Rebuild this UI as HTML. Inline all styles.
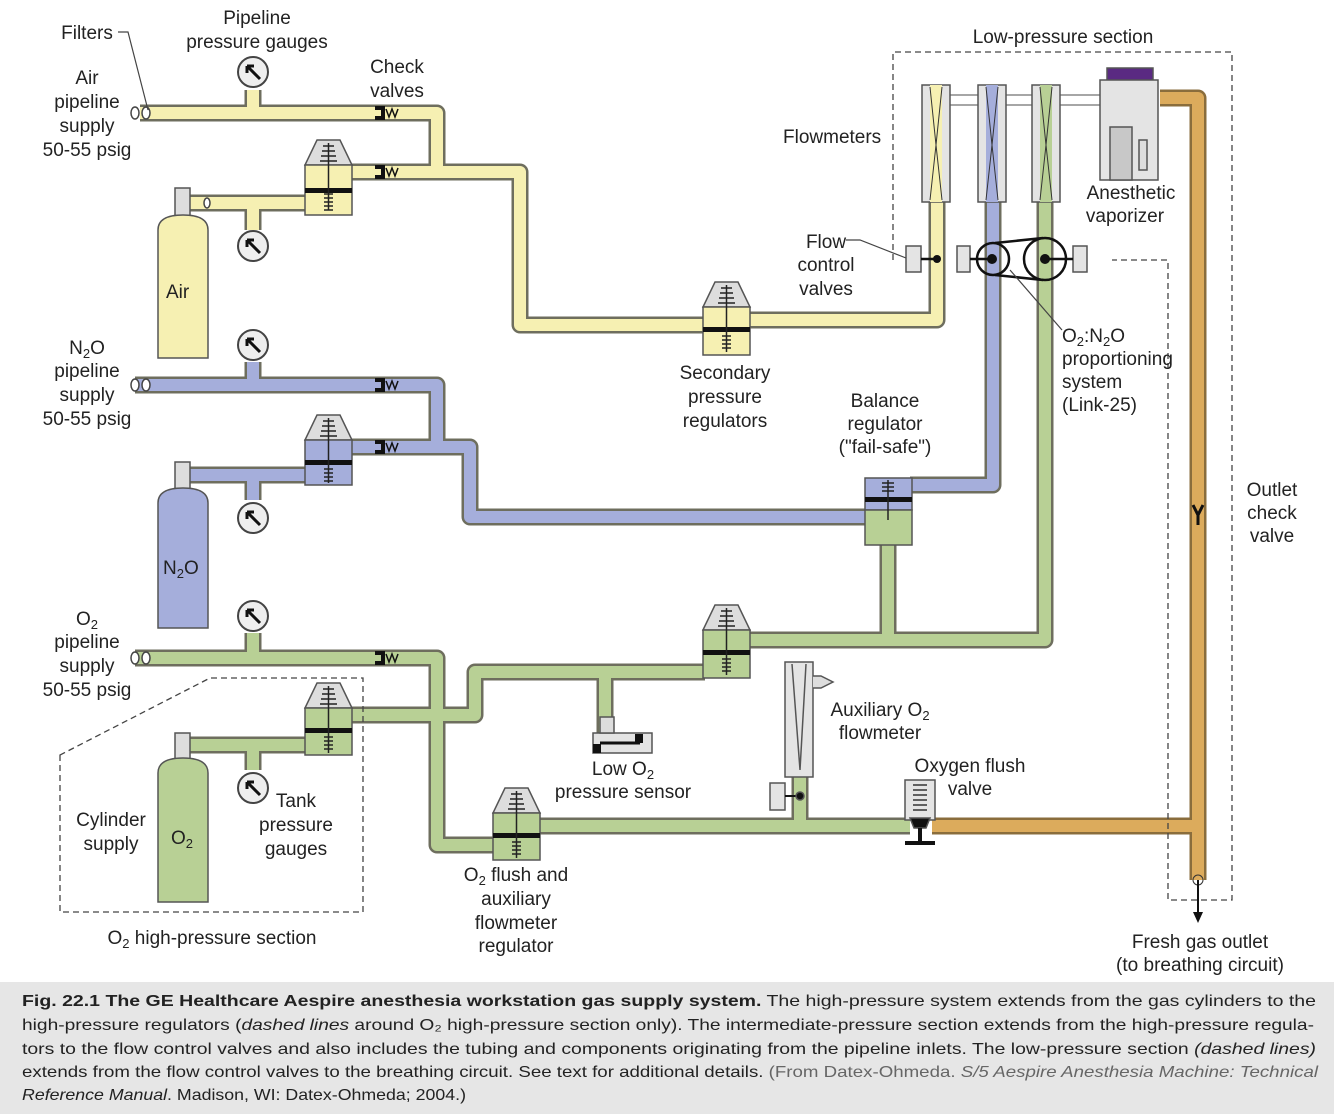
<!DOCTYPE html><html><head><meta charset="utf-8"><style>
body{margin:0;background:#fff;width:1334px;height:1114px;overflow:hidden;font-family:"Liberation Sans",sans-serif}
svg text{font-family:"Liberation Sans",sans-serif;font-size:19px;fill:#222}
svg text.c{font-size:16px;fill:#222}
</style></head><body>
<svg width="1334" height="1114" style="position:absolute;left:0;top:0">
<defs>
<g id="gauge"><circle r="15" fill="#eee" stroke="#444" stroke-width="2"/><path d="M7,7 L-6,-6 M-6,-6 L-6,1 M-6,-6 L1,-6" stroke="#111" stroke-width="3" fill="none"/></g>
<g id="chk"><path d="M0,-7 h10 v14 h-10 v-4 h6 v-6 h-6z" fill="#111"/><path d="M11,-4 l3,8 l3,-8 l3,8 l3,-8" stroke="#111" stroke-width="1.5" fill="none"/></g>
</defs>
<rect x="0" y="982" width="1334" height="132" fill="#e6e6e6"/>
<g fill="none" stroke-linejoin="round" stroke-linecap="butt">
<g stroke="#6e6e5e" stroke-width="17">
<path d="M140,113 H437 V172"/><path d="M190,203 H310"/><path d="M350,172 H437 H520 V325 H705"/><path d="M748,320 H937 V198"/>
<path d="M253,90 V113 M253,203 V230 M253,362 V385 M253,475 V500 M253,633 V658 M253,745 V770"/>
<path d="M135,385 H437 V447"/><path d="M190,475 H310"/><path d="M350,447 H470 V517 H866"/><path d="M910,485 H993 V198"/>
<path d="M135,658 H437 V845 H497"/><path d="M190,745 H310"/><path d="M350,715 H475 V672 H705"/><path d="M748,640 H1045 V198"/><path d="M888,545 V640"/>
<path d="M605,672 V735"/><path d="M538,826 H910"/><path d="M800,775 V826"/>
</g>
<g stroke="#8a6d3c" stroke-width="17"><path d="M1160,98 H1198 V880"/><path d="M932,826 H1198"/></g>
<g stroke="#f6f0b2" stroke-width="12"><path d="M140,113 H437 V172"/><path d="M190,203 H310"/><path d="M350,172 H437 H520 V325 H705"/><path d="M748,320 H937 V198"/><path d="M253,90 V113 M253,203 V230"/></g>
<g stroke="#a5aedb" stroke-width="12"><path d="M135,385 H437 V447"/><path d="M190,475 H310"/><path d="M350,447 H470 V517 H866"/><path d="M910,485 H993 V198"/><path d="M253,362 V385 M253,475 V500"/></g>
<g stroke="#b8d095" stroke-width="12"><path d="M135,658 H437 V845 H497"/><path d="M190,745 H310"/><path d="M350,715 H475 V672 H705"/><path d="M748,640 H1045 V198"/><path d="M888,545 V640"/><path d="M605,672 V735"/><path d="M538,826 H910"/><path d="M800,775 V826"/><path d="M253,633 V658 M253,745 V770"/></g>
<g stroke="#dcab5c" stroke-width="12"><path d="M1160,98 H1198 V880"/><path d="M932,826 H1198"/></g>
</g>
<g fill="#fff" stroke="#444" stroke-width="1.5"><ellipse cx="135" cy="113" rx="4" ry="6"/><ellipse cx="146" cy="113" rx="4" ry="6"/><ellipse cx="135" cy="385" rx="4" ry="6"/><ellipse cx="146" cy="385" rx="4" ry="6"/><ellipse cx="135" cy="658" rx="4" ry="6"/><ellipse cx="146" cy="658" rx="4" ry="6"/><ellipse cx="207" cy="203" rx="3" ry="5"/></g>
<use href="#gauge" x="253" y="72"/><use href="#gauge" x="253" y="246"/><use href="#gauge" x="253" y="345"/><use href="#gauge" x="253" y="518"/><use href="#gauge" x="253" y="616"/><use href="#gauge" x="253" y="788"/>
<use href="#chk" x="375" y="113"/><use href="#chk" x="375" y="172"/><use href="#chk" x="375" y="385"/><use href="#chk" x="375" y="447"/><use href="#chk" x="375" y="658"/>
<g stroke="#555" stroke-width="1.5">
<rect x="175" y="188" width="15" height="28" fill="#ddd"/><path d="M158,358 V230 Q158,215 183,215 Q208,215 208,230 V358Z" fill="#f6f0b2"/>
<rect x="175" y="462" width="15" height="27" fill="#ddd"/><path d="M158,628 V503 Q158,488 183,488 Q208,488 208,503 V628Z" fill="#a5aedb"/>
<rect x="175" y="733" width="15" height="26" fill="#ddd"/><path d="M158,902 V773 Q158,758 183,758 Q208,758 208,773 V902Z" fill="#b8d095"/>
</g>
<text x="166" y="298">Air</text><text x="163" y="574">N<tspan font-size="13" dy="4">2</tspan><tspan dy="-4">O</tspan></text><text x="171" y="844">O<tspan font-size="13" dy="4">2</tspan></text>
<g stroke="#555" stroke-width="1.5">
<g transform="translate(305,140)"><path d="M12,0 H35 L47,25 H0Z" fill="#ddd"/><rect y="25" width="47" height="50" fill="#f6f0b2"/><rect x="0" y="48" width="47" height="5" fill="#111" stroke="none"/><path d="M23.5,3 V70 M18,6 h11 M17,11 h13 M16,16 h15 M15,21 h17 M19,54 h9 M19,58 h9 M19,62 h9 M19,66 h9 M19,70 h9" stroke="#222"/></g>
<g transform="translate(305,415)"><path d="M12,0 H35 L47,25 H0Z" fill="#ddd"/><rect y="25" width="47" height="45" fill="#a5aedb"/><rect y="45" width="47" height="5" fill="#111" stroke="none"/><path d="M23.5,3 V68 M18,6 h11 M17,11 h13 M16,16 h15 M15,21 h17 M19,54 h9 M19,58 h9 M19,62 h9 M19,66 h9" stroke="#222"/></g>
<g transform="translate(305,683)"><path d="M12,0 H35 L47,25 H0Z" fill="#ddd"/><rect y="25" width="47" height="47" fill="#b8d095"/><rect y="45" width="47" height="5" fill="#111" stroke="none"/><path d="M23.5,3 V70 M18,6 h11 M17,11 h13 M16,16 h15 M15,21 h17 M19,54 h9 M19,58 h9 M19,62 h9 M19,66 h9" stroke="#222"/></g>
<g transform="translate(703,282)"><path d="M12,0 H35 L47,25 H0Z" fill="#ddd"/><rect y="25" width="47" height="48" fill="#f6f0b2"/><rect y="45" width="47" height="5" fill="#111" stroke="none"/><path d="M23.5,3 V70 M18,6 h11 M17,11 h13 M16,16 h15 M15,21 h17 M19,54 h9 M19,58 h9 M19,62 h9 M19,66 h9" stroke="#222"/></g>
<g transform="translate(703,605)"><path d="M12,0 H35 L47,25 H0Z" fill="#ddd"/><rect y="25" width="47" height="48" fill="#b8d095"/><rect y="45" width="47" height="5" fill="#111" stroke="none"/><path d="M23.5,3 V70 M18,6 h11 M17,11 h13 M16,16 h15 M15,21 h17 M19,54 h9 M19,58 h9 M19,62 h9 M19,66 h9" stroke="#222"/></g>
<g transform="translate(493,788)"><path d="M12,0 H35 L47,25 H0Z" fill="#ddd"/><rect y="25" width="47" height="47" fill="#b8d095"/><rect y="45" width="47" height="5" fill="#111" stroke="none"/><path d="M23.5,3 V70 M18,6 h11 M17,11 h13 M16,16 h15 M15,21 h17 M19,54 h9 M19,58 h9 M19,62 h9 M19,66 h9" stroke="#222"/></g>
<rect x="865" y="478" width="47" height="32" fill="#a5aedb"/><rect x="865" y="510" width="47" height="35" fill="#b8d095"/><rect x="865" y="497" width="47" height="5" fill="#111" stroke="none"/><path d="M888,480 V520 M882,483 h12 M882,487 h12 M882,491 h12" stroke="#222"/>
<rect x="593" y="733" width="59" height="20" fill="#e4e4e4"/><rect x="600" y="717" width="14" height="16" fill="#ddd"/><rect x="593" y="744" width="8" height="9" fill="#111" stroke="none"/><rect x="635" y="734" width="8" height="9" fill="#111" stroke="none"/><path d="M600,743 H640" stroke="#111" stroke-width="3"/>
<rect x="785" y="662" width="28" height="115" fill="#e4e4e4"/><path d="M792,664 L800,770 L806,664" fill="none"/><path d="M813,676 h8 l12,6 l-12,6 h-8" fill="#ddd"/>
<rect x="770" y="783" width="15" height="27" fill="#e4e4e4"/><path d="M785,796 H798" stroke="#111" stroke-width="2"/><circle cx="800" cy="796" r="4" fill="#111"/>
<rect x="905" y="780" width="30" height="40" fill="#e4e4e4"/><path d="M913,785 h14 M913,790 h14 M913,795 h14 M913,800 h14 M913,805 h14 M913,810 h14" stroke="#333"/><path d="M910,818 h20 l-4,10 h-12z" fill="#111"/><path d="M920,828 V842 M905,843 h30" stroke="#111" stroke-width="4"/>
<path d="M950,95 H978 M950,105 H978 M1006,95 H1032 M1006,105 H1032 M1060,95 H1100 M1060,105 H1100" stroke="#888"/>
<rect x="922" y="85" width="28" height="117" fill="#e4e4e4"/><rect x="930" y="85" width="12" height="117" fill="#f6f0b2" stroke="none"/><path d="M930,87 L936,145 L942,87 M930,200 L936,145 L942,200" fill="none" stroke="#333" stroke-width="1"/>
<rect x="978" y="85" width="28" height="117" fill="#e4e4e4"/><rect x="986" y="85" width="12" height="117" fill="#a5aedb" stroke="none"/><path d="M986,87 L992,145 L998,87 M986,200 L992,145 L998,200" fill="none" stroke="#333" stroke-width="1"/>
<rect x="1032" y="85" width="28" height="117" fill="#e4e4e4"/><rect x="1040" y="85" width="12" height="117" fill="#b8d095" stroke="none"/><path d="M1040,87 L1046,145 L1052,87 M1040,200 L1046,145 L1052,200" fill="none" stroke="#333" stroke-width="1"/>
<rect x="1107" y="68" width="46" height="13" fill="#5a2a82"/><rect x="1100" y="80" width="58" height="100" fill="#e4e4e4"/><rect x="1110" y="127" width="22" height="53" fill="#c8c8c8"/><rect x="1139" y="140" width="8" height="30" fill="#ddd"/>
<rect x="906" y="246" width="15" height="26" fill="#e4e4e4"/><rect x="957" y="246" width="13" height="26" fill="#e4e4e4"/><rect x="1073" y="246" width="14" height="26" fill="#e4e4e4"/>
</g>
<g stroke="#111" fill="none" stroke-width="2.5">
<path d="M921,259 H935 M970,259 H990 M1048,259 H1073"/>
<circle cx="993" cy="259" r="16"/><circle cx="1045" cy="259" r="21"/><path d="M995,243 L1043,238 M995,275 L1043,280"/>
</g>
<g fill="#111"><circle cx="937" cy="259" r="4"/><circle cx="992" cy="259" r="5"/><circle cx="1045" cy="259" r="5"/></g>
<path d="M1193,505 l5,10 l5,-10 M1198,515 v10" stroke="#111" stroke-width="3" fill="none"/>
<circle cx="1198" cy="880" r="5" fill="none" stroke="#333"/>
<path d="M1198,880 V915" stroke="#111" stroke-width="2"/><path d="M1193,912 l5,11 l5,-11z" fill="#111"/>
<g stroke="#444" stroke-width="1.3" stroke-dasharray="6,4" fill="none">
<path d="M893,260 V52 H1232 V900 H1168 V260 H1112"/>
<path d="M60,755 V912 H363 V678 H210 Z"/>
</g>
<g stroke="#444" stroke-width="1.2" fill="none">
<path d="M118,32 H128 L148,110"/><path d="M846,240 H860 L906,258"/><path d="M1010,270 L1062,330"/>
</g>
<g text-anchor="middle">
<text x="87" y="39">Filters</text>
<text x="257" y="24">Pipeline</text><text x="257" y="48">pressure gauges</text>
<text x="397" y="73">Check</text><text x="397" y="97">valves</text>
<text x="87" y="84">Air</text><text x="87" y="108">pipeline</text><text x="87" y="132">supply</text><text x="87" y="156">50-55 psig</text>
<text x="87" y="354">N<tspan font-size="13" dy="4">2</tspan><tspan dy="-4">O</tspan></text><text x="87" y="377">pipeline</text><text x="87" y="401">supply</text><text x="87" y="425">50-55 psig</text>
<text x="87" y="625">O<tspan font-size="13" dy="4">2</tspan></text><text x="87" y="648">pipeline</text><text x="87" y="672">supply</text><text x="87" y="696">50-55 psig</text>
<text x="1063" y="43">Low-pressure section</text>
<text x="1131" y="199">Anesthetic</text><text x="1125" y="222">vaporizer</text>
<text x="826" y="248">Flow</text><text x="826" y="271">control</text><text x="826" y="295">valves</text>
<text x="725" y="379">Secondary</text><text x="725" y="403">pressure</text><text x="725" y="427">regulators</text>
<text x="885" y="407">Balance</text><text x="885" y="430">regulator</text><text x="885" y="453">("fail-safe")</text>
<text x="1272" y="496">Outlet</text><text x="1272" y="519">check</text><text x="1272" y="542">valve</text>
<text x="880" y="716">Auxiliary O<tspan font-size="13" dy="4">2</tspan></text><text x="880" y="739">flowmeter</text>
<text x="970" y="772">Oxygen flush</text><text x="970" y="795">valve</text>
<text x="623" y="775">Low O<tspan font-size="13" dy="4">2</tspan></text><text x="623" y="798">pressure sensor</text>
<text x="296" y="807">Tank</text><text x="296" y="831">pressure</text><text x="296" y="855">gauges</text>
<text x="111" y="826">Cylinder</text><text x="111" y="850">supply</text>
<text x="212" y="944">O<tspan font-size="13" dy="4">2</tspan><tspan dy="-4"> high-pressure section</tspan></text>
<text x="516" y="881">O<tspan font-size="13" dy="4">2</tspan><tspan dy="-4"> flush and</tspan></text><text x="516" y="905">auxiliary</text><text x="516" y="929">flowmeter</text><text x="516" y="952">regulator</text>
<text x="1200" y="948">Fresh gas outlet</text><text x="1200" y="971">(to breathing circuit)</text>
</g>
<text x="783" y="143">Flowmeters</text>
<text x="1062" y="342">O<tspan font-size="13" dy="4">2</tspan><tspan dy="-4">:N</tspan><tspan font-size="13" dy="4">2</tspan><tspan dy="-4">O</tspan></text><text x="1062" y="365">proportioning</text><text x="1062" y="388">system</text><text x="1062" y="411">(Link-25)</text>
<text class="c" x="22" y="1006" textLength="1294" lengthAdjust="spacingAndGlyphs"><tspan font-weight="bold">Fig. 22.1  The GE Healthcare Aespire anesthesia workstation gas supply system.</tspan>  The high-pressure system extends from the gas cylinders to the</text>
<text class="c" x="22" y="1030" textLength="1292" lengthAdjust="spacingAndGlyphs">high-pressure regulators (<tspan font-style="italic">dashed lines</tspan> around O₂ high-pressure section only). The intermediate-pressure section extends from the high-pressure regula-</text>
<text class="c" x="22" y="1054" textLength="1294" lengthAdjust="spacingAndGlyphs">tors to the flow control valves and also includes the tubing and components originating from the pipeline inlets. The low-pressure section <tspan font-style="italic">(dashed lines)</tspan></text>
<text class="c" x="22" y="1077" textLength="1296" lengthAdjust="spacingAndGlyphs">extends from the flow control valves to the breathing circuit. See text for additional details. <tspan fill="#666">(From Datex-Ohmeda. </tspan><tspan fill="#666" font-style="italic">S/5 Aespire Anesthesia Machine: Technical</tspan></text>
<text class="c" x="22" y="1100" textLength="444" lengthAdjust="spacingAndGlyphs" fill="#666"><tspan font-style="italic">Reference Manual</tspan>. Madison, WI: Datex-Ohmeda; 2004.)</text>
</svg>
</body></html>
